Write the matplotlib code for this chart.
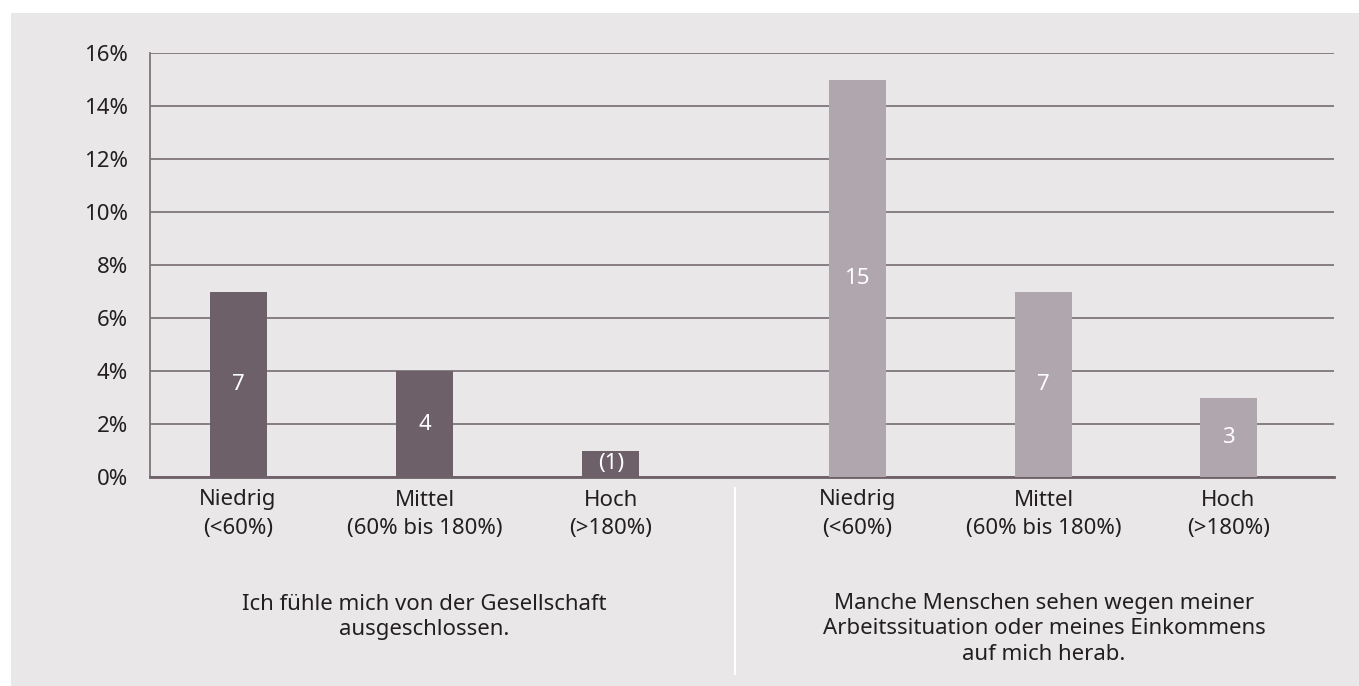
import matplotlib
matplotlib.use("Agg")
import matplotlib.pyplot as plt
from matplotlib.patches import Rectangle
from matplotlib.lines import Line2D

plt.rcParams['font.family'] = ['Noto Sans', 'DejaVu Sans']

# Data
categories = ["Niedrig\n(<60%)", "Mittel\n(60% bis 180%)", "Hoch\n(>180%)"]
group_titles = ["Ich fühle mich von der Gesellschaft\nausgeschlossen.",
                "Manche Menschen sehen wegen meiner\nArbeitssituation oder meines Einkommens\nauf mich herab."]
values_excluded = [7, 4, 1]
labels_excluded = ["7", "4", "(1)"]
values_lookdown = [15, 7, 3]
labels_lookdown = ["15", "7", "3"]
yticks = [0, 2, 4, 6, 8, 10, 12, 14, 16]
ytick_labels = ["0%", "2%", "4%", "6%", "8%", "10%", "12%", "14%", "16%"]

W, H = 1359, 686
FS = 16
TXT = "#231F20"
fig = plt.figure(figsize=(W / 100, H / 100), dpi=100)
fig.patch.set_facecolor("white")
fig.patches.append(Rectangle((11 / W, 0), 1 - 11 / W, (H - 13) / H,
                             transform=fig.transFigure, facecolor="#E9E7E8",
                             edgecolor="none", zorder=-10))

ax = fig.add_axes([150 / W, (H - 477) / H, (1334 - 150) / W, (477 - 53) / H])
ax.set_facecolor("none")

pos1 = [0.0, 1.0, 2.0]
pos2 = [3.32, 4.32, 5.31]
bw = 57 / 186.5

dark = "#6D6068"
light = "#B0A6AD"
ax.bar(pos1, values_excluded, width=bw, color=dark, zorder=3)
ax.bar(pos2, values_lookdown, width=bw, color=light, zorder=3)

for x, v, lab in zip(pos1, values_excluded, labels_excluded):
    ax.text(x, v / 2, lab, ha="center", va="center", color="white", fontsize=FS, zorder=4)
for x, v, lab in zip(pos2, values_lookdown, labels_lookdown):
    ax.text(x, v / 2, lab, ha="center", va="center", color="white", fontsize=FS, zorder=4)

ax.set_xlim(-0.472, 5.877)
ax.set_ylim(0, 16)
ax.set_yticks(yticks)
ax.set_yticklabels(ytick_labels, fontsize=FS, color=TXT)
ax.yaxis.grid(True, color="#7F767B", linewidth=1.3, zorder=1)
ax.set_axisbelow(True)
ax.tick_params(axis="y", length=0, pad=16)
ax.tick_params(axis="x", length=0, pad=9)
ax.set_xticks(pos1 + pos2)
ax.set_xticklabels(categories * 2, fontsize=FS, color=TXT, linespacing=1.45)
for s in ["top", "right"]:
    ax.spines[s].set_visible(False)
ax.spines["left"].set_color("#7F767B")
ax.spines["left"].set_linewidth(1.3)
ax.spines["bottom"].set_color("#6D6068")
ax.spines["bottom"].set_linewidth(2)

# group titles
fig.text(424 / W, (H - 617) / H, group_titles[0], ha="center", va="center",
         fontsize=FS, color=TXT, linespacing=1.3)
fig.text(1044 / W, (H - 629) / H, group_titles[1], ha="center", va="center",
         fontsize=FS, color=TXT, linespacing=1.3)

# separator line
fig.lines.append(Line2D([735 / W, 735 / W], [(H - 488) / H, (H - 674) / H],
                        transform=fig.transFigure, color="white", linewidth=1.5))

fig.savefig("out.png", dpi=100)
